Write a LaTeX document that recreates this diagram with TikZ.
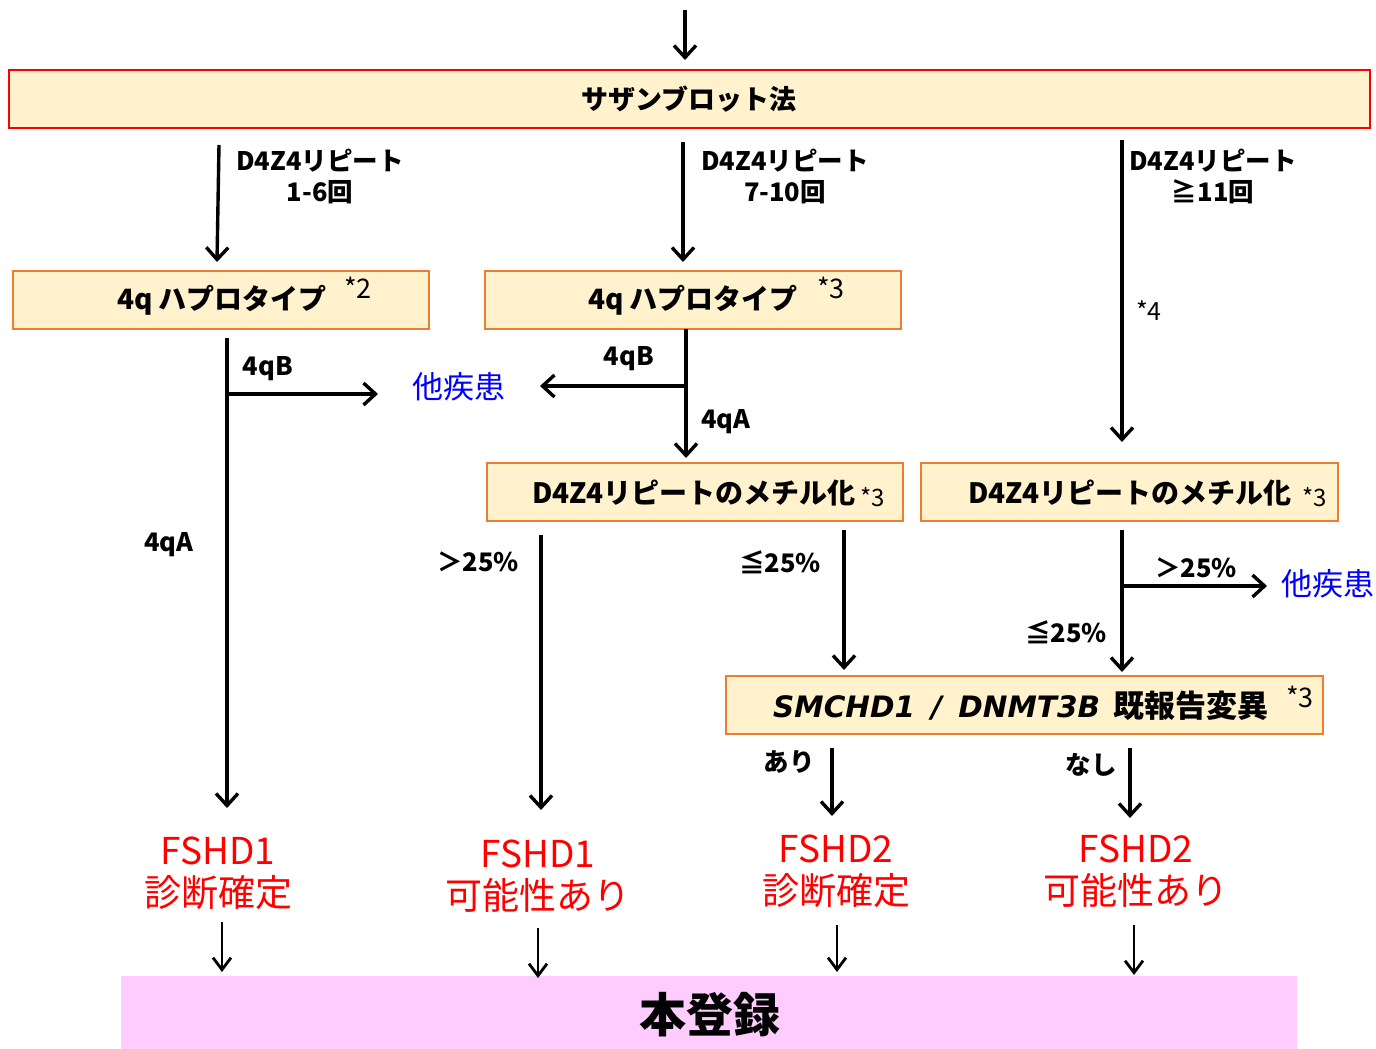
\documentclass[tikz,border=0pt]{standalone}
\usepackage{fontspec}
\setmainfont{Noto Sans CJK JP}
\newfontfamily\latfont{DejaVu Sans}
\usetikzlibrary{arrows.meta}
\definecolor{boxfill}{HTML}{FFF2CC}
\definecolor{boxorange}{HTML}{ED7D31}
\definecolor{regpink}{HTML}{FFCCFF}
\definecolor{disblue}{HTML}{0000FF}
\definecolor{resred}{HTML}{FF0000}
\tikzset{
  flowbox/.style={draw=boxorange, fill=boxfill, line width=1.5pt, minimum height=58pt, inner sep=0pt},
  redbox/.style={flowbox, draw=resred},
  lbl/.style={font=\bfseries\fontsize{25.5}{31}\selectfont, inner sep=0pt, align=center},
  boxtxt/.style={font=\bfseries\fontsize{28}{32}\selectfont, inner sep=0pt},
  supr/.style={font=\fontsize{27}{30}\selectfont, inner sep=0pt},
  suprs/.style={font=\fontsize{24}{26}\selectfont, inner sep=0pt},
  other/.style={font=\fontsize{31}{34}\selectfont, text=disblue, inner sep=0pt},
  result/.style={font=\fontsize{37}{42}\selectfont, text=resred, inner sep=0pt, align=center},
  arr/.style={line width=3.4pt, -{Straight Barb[length=12pt,width=22pt]}},
  thinarr/.style={line width=2.8pt, -{Straight Barb[length=12pt,width=18pt]}}
}
\begin{document}
\begin{tikzpicture}[x=1pt,y=-1pt]
\useasboundingbox (0,0) rectangle (1376,1049);
% boxes
\node[redbox, minimum width=1361pt] (sb) at (689.5,99) {};
\node[boxtxt, font=\bfseries\fontsize{27}{32}\selectfont] (sbt) at (689,99) {サザンブロット法};
\node[flowbox, minimum width=416pt] (hap1) at (221,300) {};
\node[boxtxt] (hap1t) at (222,300) {4q ハプロタイプ};
\node[supr] (hap1s) at (358,288) {*2};
\node[flowbox, minimum width=416pt] (hap2) at (693,300) {};
\node[boxtxt] (hap2t) at (693,300) {4q ハプロタイプ};
\node[supr] (hap2s) at (831,288) {*3};
\node[flowbox, minimum width=416pt] (meth1) at (695,492) {};
\node[boxtxt] (meth1t) at (694,493) {D4Z4リピートのメチル化};
\node[suprs] (meth1s) at (873,497) {*3};
\node[flowbox, minimum width=417pt] (meth2) at (1129.5,492) {};
\node[boxtxt] (meth2t) at (1130,493) {D4Z4リピートのメチル化};
\node[suprs] (meth2s) at (1315,497) {*3};
\node[flowbox, minimum width=597pt] (smc) at (1024.5,705) {};
\node[boxtxt, font=\bfseries\fontsize{31}{34}\selectfont, anchor=west] (smct) at (773,706) {{\latfont\bfseries\itshape\fontsize{29.5}{34}\selectfont SMCHD1\hspace{6pt} / \hspace{6pt}DNMT3B}\hspace{6pt} 既報告変異};
\node[supr] (smcs) at (1300,697) {*3};
\node[fill=regpink, minimum width=1176pt, minimum height=73pt, inner sep=0pt] (reg) at (709,1012.5) {};
\node[font=\bfseries\fontsize{47}{50}\selectfont, inner sep=0pt] (regt) at (710,1015) {本登録};
% labels
\node[lbl] (l1) at (320,176) {D4Z4リピート\\1-6回};
\node[lbl] (l2) at (785,176) {D4Z4リピート\\7-10回};
\node[lbl] (l3) at (1213,176) {D4Z4リピート\\≧11回};
\node[supr, font=\fontsize{25}{28}\selectfont] (n4) at (1149,311) {*4};
\node[lbl] (qb1) at (268,369) {4qB};
\node[lbl] (qa1) at (169,545) {4qA};
\node[lbl] (qb2) at (629,359) {4qB};
\node[lbl] (qa2) at (726,422) {4qA};
\node[other] (od1) at (459,387) {他疾患};
\node[other] (od2) at (1328,584) {他疾患};
\node[lbl] (p1) at (478,562) {＞25\%};
\node[lbl] (p2) at (780,562) {≦25\%};
\node[lbl] (p3) at (1196,568) {＞25\%};
\node[lbl] (p4) at (1066,632) {≦25\%};
\node[lbl] (ari) at (789,762) {あり};
\node[lbl] (nasi) at (1091,765) {なし};
% results
\node[result] (r1) at (218,873) {FSHD1\\診断確定};
\node[result] (r2) at (538,876) {FSHD1\\可能性あり};
\node[result] (r3) at (836,871) {FSHD2\\診断確定};
\node[result] (r4) at (1136,871) {FSHD2\\可能性あり};
% coordinates
\coordinate (a0s) at (685,10);   \coordinate (a0e) at (685,60);
\coordinate (a1s) at (219,145);  \coordinate (a1e) at (217,262);
\coordinate (a2s) at (683,142);  \coordinate (a2e) at (683,262);
\coordinate (a3s) at (1122,140); \coordinate (a3e) at (1122,442);
\coordinate (b1s) at (227,338);  \coordinate (b1e) at (227,808);
\coordinate (b1j) at (227,394);  \coordinate (b1r) at (378,394);
\coordinate (b2s) at (686,329);  \coordinate (b2e) at (686,458);
\coordinate (b2j) at (688,386);  \coordinate (b2l) at (540,386);
\coordinate (c1s) at (541,535);  \coordinate (c1e) at (541,810);
\coordinate (c2s) at (844,530);  \coordinate (c2e) at (844,670);
\coordinate (c3s) at (1122,530); \coordinate (c3e) at (1122,672);
\coordinate (c3j) at (1122,586); \coordinate (c3r) at (1267,586);
\coordinate (d1s) at (832,748);  \coordinate (d1e) at (832,816);
\coordinate (d2s) at (1130,748); \coordinate (d2e) at (1130,818);
\coordinate (e1s) at (222,922);  \coordinate (e1e) at (222,972);
\coordinate (e2s) at (538,928);  \coordinate (e2e) at (538,978);
\coordinate (e3s) at (837,925);  \coordinate (e3e) at (837,972);
\coordinate (e4s) at (1134,925); \coordinate (e4e) at (1134,975);
% connectors
\draw[arr] (a0s) -- (a0e);
\draw[arr] (a1s) -- (a1e);
\draw[arr] (a2s) -- (a2e);
\draw[arr] (a3s) -- (a3e);
\draw[arr] (b1s) -- (b1e);
\draw[arr] (b1j) -- (b1r);
\draw[arr] (b2s) -- (b2e);
\draw[arr] (b2j) -- (b2l);
\draw[arr] (c1s) -- (c1e);
\draw[arr] (c2s) -- (c2e);
\draw[arr] (c3s) -- (c3e);
\draw[arr] (c3j) -- (c3r);
\draw[arr] (d1s) -- (d1e);
\draw[arr] (d2s) -- (d2e);
\draw[thinarr] (e1s) -- (e1e);
\draw[thinarr] (e2s) -- (e2e);
\draw[thinarr] (e3s) -- (e3e);
\draw[thinarr] (e4s) -- (e4e);
\end{tikzpicture}
\end{document}
